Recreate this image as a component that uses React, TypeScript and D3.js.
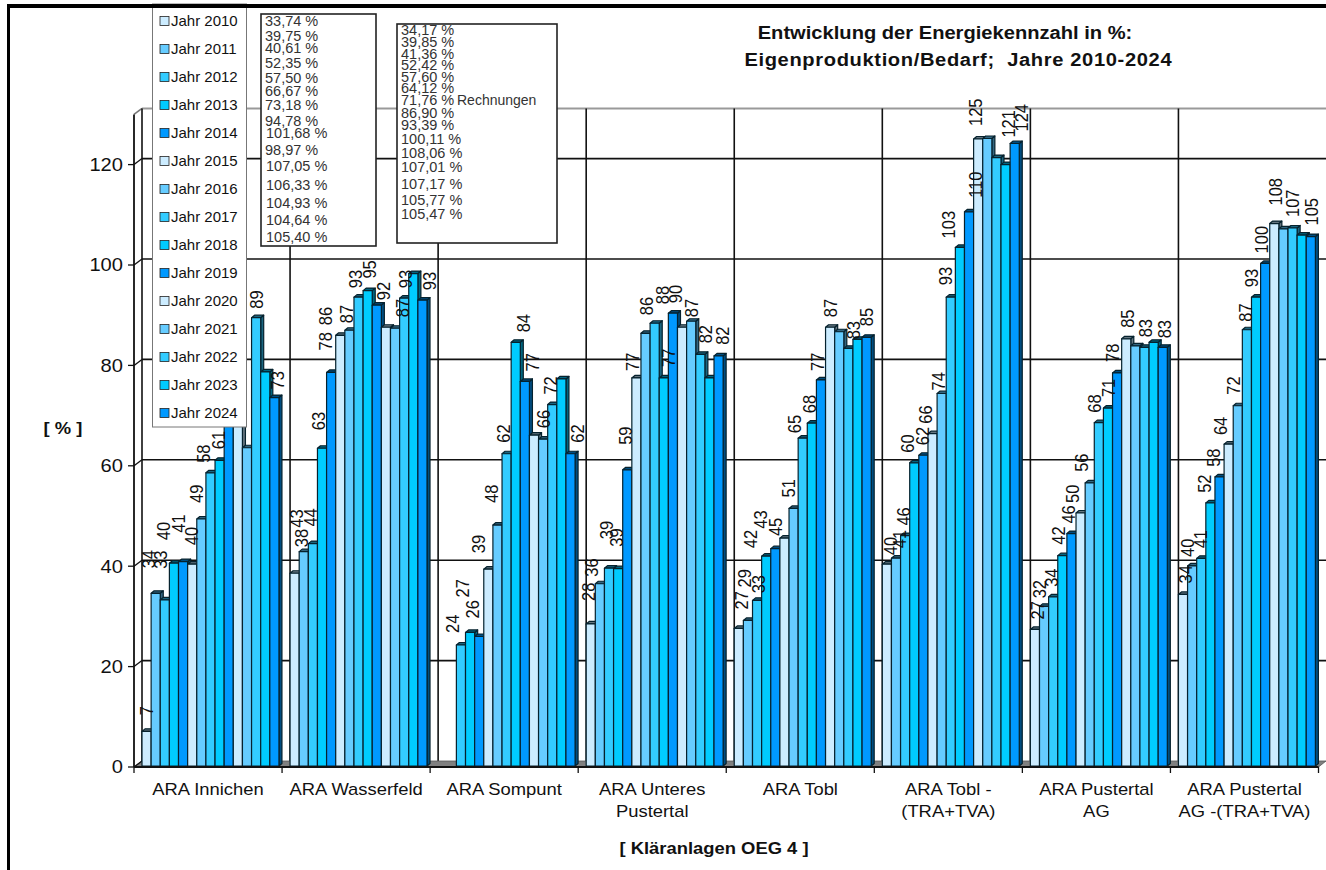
import React from "react";
import * as d3 from "d3";

const categories = [
  ["ARA Innichen"],
  ["ARA Wasserfeld"],
  ["ARA Sompunt"],
  ["ARA Unteres", "Pustertal"],
  ["ARA Tobl"],
  ["ARA Tobl -", "(TRA+TVA)"],
  ["ARA Pustertal", "AG"],
  ["ARA Pustertal", "AG -(TRA+TVA)"],
];
const years = d3.range(15).map((i) => `Jahr ${2010 + i}`);
const palette = ["#CCECFF", "#66CCFF", "#33CCFF", "#00CCFF", "#0099FF"];

const innichen = [6.9, 34.4, 33.1, 40.4, 40.7, 40.2, 49.2, 58.4, 60.9, 70, 75, 63.4, 89.3, 78.5, 73.4];
const wasserfeld = [38.4, 42.7, 44.3, 63.3, 78.4, 85.8, 86.8, 93.4, 94.7, 91.8, 87.4, 87.2, 93.2, 98.1, 92.8];
const sompunt = [null, null, 24.1, 26.6, 25.8, 39.2, 48, 62.2, 84.4, 76.6, 65.9, 65.1, 72, 77.1, 62.2];
const unteres = [28.3, 36.3, 39.4, 39.3, 59, 77.3, 86.2, 88.2, 77.3, 90.2, 87.4, 88.6, 82, 77.3, 81.7];
const tobl = [27.4, 29, 33, 41.8, 43.3, 45.4, 51.3, 65.3, 68.3, 76.9, 87.4, 86.5, 83.2, 85, 85.4];
const toblTra = [40.2, 41.4, 45.9, 60.4, 61.9, 66.2, 74.2, 93.4, 103.3, 110.4, 124.9, 125, 121.2, 119.8, 124];
const pustertal = [27.2, 31.8, 33.7, 41.9, 46.3, 50.4, 56.4, 68.4, 71.3, 78.3, 85.1, 83.7, 83.4, 84.4, 83.4];
const pustertalTra = [34.17, 39.85, 41.36, 52.42, 57.6, 64.12, 71.76, 86.9, 93.39, 100.11, 108.06, 107.01, 107.17, 105.77, 105.47];
const seriesByPlant = [innichen, wasserfeld, sompunt, unteres, tobl, toblTra, pustertal, pustertalTra];

const yTicks = [0, 20, 40, 60, 80, 100, 120];
const note1 = ["33,74 %", "39,75 %", "40,61 %", "52,35 %", "57,50 %", "66,67 %", "73,18 %", "94,78 %", "101,68 %", "98,97 %", "107,05 %", "106,33 %", "104,93 %", "104,64 %", "105,40 %"];
const note2 = ["34,17 %", "39,85 %", "41,36 %", "52,42 %", "57,60 %", "64,12 %", "71,76 %", "86,90 %", "93,39 %", "100,11 %", "108,06 %", "107,01 %", "107,17 %", "105,77 %", "105,47 %"];

// layout only: hand-placed data-label nudges as [dx from bar centre, gap above bar]; null = label not shown
type N = [number, number] | null;
const labelNudges: N[][] = [
  [[0, 16], [-8, 25], [-5, 31], [-11, 23], [-5, 29], [-1, 19], [-5, 16], [-7, 10], [-1, 11], null, null, null, [0, 9], null, [3, 8]],
  [[7, 26], [-8, 24], [-3, 17], [-4, 18], [-6, 22], [-15, 10], [-3, 7], [-3, 9], [1, 12], [6, 5], null, [7, 11], [1, 10], null, [7, 10]],
  [null, null, [-9, 12], [-8, 35], [-7, 18], [-10, 16], [-6, 22], [-3, 11], [7, 10], [7, 10], [9, 7], null, [-2, 10], null, [7, 11]],
  [[-3, 23], [-9, 7], [-3, 29], [-2, 22], [-2, 25], [-4, 7], [1, 18], [8, 19], [4, 11], [2, 10], [9, 10], null, [5, 11], null, [4, 11]],
  [[2, 19], [-4, 33], [1, 7], [-16, 8], [-15, 20], [-9, 2], [-5, 11], [-9, 5], [-3, 10], [-4, 9], [0, 10], null, [5, 9], null, [0, 11]],
  [[3, 9], [3, 10], [-2, 10], [-7, 10], [-1, 10], [-7, 10], [-3, 3], [-5.5, 12], [-12, 9], [6, 14], [-3, 13], null, [12, 20], null, [6, 12]],
  [[2, 10], [-5, 8], [-2, 10], [-4, 11], [-3, 10], [-8, 10], [-9, 11], [-5, 10], [0, 11], [-5, 11], [1, 11], null, [1, 10], null, [1, 9]],
  [[2, 11], [-5, 9], [-1, 10], [-6, 10], [-6, 10], [-8, 9], [-5, 11], [-2, 8], [-5, 10], [-4, 10], [1, 18], null, [0, 11], null, [0, 11]],
];
const note1Y = [21, 36, 48, 63, 78, 91, 105, 121, 133, 150, 166, 185, 203, 220, 237];
const note2Y = [30, 42, 54, 65, 77, 88, 100, 113, 125, 139, 153, 167, 184, 200, 214];
const FONT = "'Liberation Sans', Arial, sans-serif";
const SX = 1.15; // the source image is stretched horizontally
const DX = 8, DY = 6, BW = 3, BH = 2.5;

const x0 = d3.scaleBand<number>().domain(d3.range(categories.length)).range([134, 1318.5]);
const y = d3.scaleLinear().domain([0, 130]).range([767, 114.4]);
const bw = 9.13;
const xS = d3.scaleBand<number>().domain(d3.range(15)).range([DX, DX + 15 * bw]);

const shade = (c: string) => {
  const r = d3.rgb(c);
  return d3.rgb(r.r * 0.5, r.g * 0.5, r.b * 0.5).formatHex();
};
const at = (x: number, yy: number, s = SX) => `translate(${x},${yy}) scale(${s},1)`;

export default function App() {
  const top = y(130) - DY;
  return (
    <svg width={1326} height={870} style={{ position: "absolute", left: 0, top: 0, background: "#fff" }} fontFamily={FONT}>
      <rect x={0} y={0} width={1326} height={870} fill="#fff" />
      {/* walls */}
      {yTicks.filter((t) => t > 0).map((t) => (
        <line key={t} x1={134 + DX} x2={1326} y1={y(t) - DY} y2={y(t) - DY} stroke="#111" strokeWidth={1.6} />
      ))}
      <line x1={134} y1={y(130)} x2={134 + DX} y2={top} stroke="#777" strokeWidth={1.6} />
      <line x1={134 + DX} x2={1326} y1={top} y2={top} stroke="#999" strokeWidth={2} />
      {d3.range(0, categories.length).map((i) => (
        <line key={i} x1={x0(i)! + DX} x2={x0(i)! + DX} y1={top} y2={y(0) - DY} stroke="#111" strokeWidth={1.6} />
      ))}
      <line x1={134} x2={134} y1={y(130)} y2={y(0)} stroke="#111" strokeWidth={1.8} />
      {/* floor */}
      <polygon
        points={`134,${y(0)} ${134 + DX},${y(0) - DY} 1326,${y(0) - DY} 1318.5,${y(0)}`}
        fill="#808080"
        stroke="#555"
        strokeWidth={0.8}
      />
      {/* y ticks */}
      {yTicks.map((t) => (
        <g key={t}>
          <line x1={128} x2={134} y1={y(t)} y2={y(t)} stroke="#111" strokeWidth={1.3} />
          <line x1={134} x2={134 + DX} y1={y(t)} y2={y(t) - DY} stroke="#111" strokeWidth={1.3} />
          <text transform={at(123, y(t))} dy="0.36em" textAnchor="end" fontSize={17.5} fill="#111">{t}</text>
        </g>
      ))}
      {/* bars */}
      {seriesByPlant.map((vals, ci) =>
        vals.map((v, si) => {
          if (v == null) return null;
          const x = x0(ci)! + xS(si)!;
          const yt = y(v) - 1;
          const yb = y(0) - 1;
          const c = palette[si % 5];
          const dark = shade(c);
          return (
            <g key={`${ci}-${si}`} stroke="#06222e" strokeWidth={1.2} strokeLinejoin="round">
              <polygon points={`${x + bw},${yt} ${x + bw + BW},${yt - BH} ${x + bw + BW},${yb - BH} ${x + bw},${yb}`} fill={dark} />
              <polygon points={`${x},${yt} ${x + BW},${yt - BH} ${x + bw + BW},${yt - BH} ${x + bw},${yt}`} fill={dark} />
              <rect x={x} y={yt} width={bw} height={yb - yt} fill={c} />
            </g>
          );
        })
      )}
      {/* x axis */}
      <line x1={134} x2={1318.5} y1={y(0)} y2={y(0)} stroke="#111" strokeWidth={2.2} />
      {d3.range(0, categories.length + 1).map((i) => {
        const tx = 134 + i * x0.bandwidth();
        return <line key={i} x1={tx} x2={tx} y1={y(0)} y2={y(0) + 6} stroke="#111" strokeWidth={1.3} />;
      })}
      {/* value labels */}
      {seriesByPlant.map((vals, ci) =>
        vals.map((v, si) => {
          const n = labelNudges[ci][si];
          if (v == null || n == null) return null;
          const x = x0(ci)! + xS(si)! + bw / 2 + n[0];
          const yy = y(v) - 1 - n[1];
          return (
            <text key={`${ci}-${si}`} transform={`${at(x, yy)} rotate(-90)`} dy="0.36em" fontSize={16.5} fill="#111">
              {d3.format(".0f")(v)}
            </text>
          );
        })
      )}
      {/* category labels */}
      {categories.map((lines, i) =>
        lines.map((l, k) => (
          <text key={`${i}-${k}`} transform={at(x0(i)! + x0.bandwidth() / 2, 795 + k * 21.5)} textAnchor="middle" fontSize={16} fill="#111">
            {l}
          </text>
        ))
      )}
      <text transform={at(63, 434)} textAnchor="middle" fontSize={16} fontWeight="bold" fill="#111">[ % ]</text>
      <text transform={at(714, 854)} textAnchor="middle" fontSize={16} fontWeight="bold" fill="#111">[ Kläranlagen OEG 4 ]</text>
      {/* legend */}
      <rect x={152.5} y={4} width={94} height={423} fill="#fff" stroke="#777" strokeWidth={1} />
      {years.map((yr, i) => {
        const ly = 21 + i * 28;
        return (
          <g key={yr}>
            <rect x={160} y={ly - 4.5} width={9} height={9} fill={palette[i % 5]} stroke="#222" strokeWidth={0.8} />
            <text x={171} y={ly} dy="0.36em" fontSize={15} fill="#111">{yr}</text>
          </g>
        );
      })}
      {/* notes */}
      <rect x={261} y={14} width={115} height={232} fill="#fff" stroke="#222" strokeWidth={1.6} />
      {note1.map((t, i) => (
        <text key={t} x={i > 7 && i !== 9 ? 266 : 265} y={note1Y[i]} dy="0.36em" fontSize={14.5} fill="#333">{t}</text>
      ))}
      <rect x={397} y={24} width={160} height={219} fill="#fff" stroke="#222" strokeWidth={1.6} />
      {note2.map((t, i) => (
        <text key={t} x={401} y={note2Y[i]} dy="0.36em" fontSize={14.5} fill="#333">{t}</text>
      ))}
      <text x={457} y={100} dy="0.36em" fontSize={14} fill="#333">Rechnungen</text>
      {/* title */}
      <text transform={at(945, 39, 1.06)} textAnchor="middle" fontSize={19} fontWeight="bold" fill="#111">Entwicklung der Energiekennzahl in %:</text>
      <text transform={at(958, 66, 1.06)} textAnchor="middle" fontSize={19} fontWeight="bold" fill="#111" textLength={403} lengthAdjust="spacing" style={{ whiteSpace: "pre" }}>Eigenproduktion/Bedarf;  Jahre 2010-2024</text>
      {/* frame */}
      <line x1={8.5} x2={8.5} y1={5} y2={870} stroke="#000" strokeWidth={3} />
      <line x1={7} x2={1326} y1={6} y2={6} stroke="#000" strokeWidth={4} />
    </svg>
  );
}
